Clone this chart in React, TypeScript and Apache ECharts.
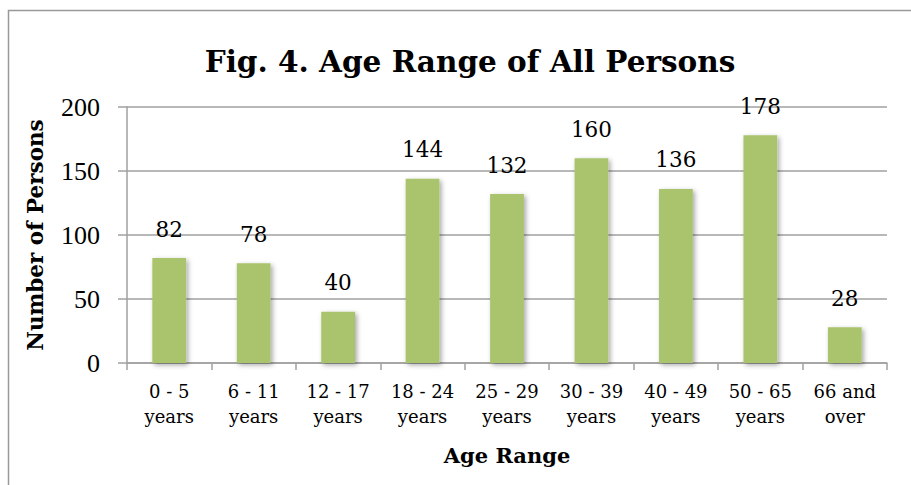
import React, { useEffect, useRef } from "react";
import * as echarts from "echarts";

const categories = [
  "0 - 5\nyears",
  "6 - 11\nyears",
  "12 - 17\nyears",
  "18 - 24\nyears",
  "25 - 29\nyears",
  "30 - 39\nyears",
  "40 - 49\nyears",
  "50 - 65\nyears",
  "66 and\nover",
];
const persons = [82, 78, 40, 144, 132, 160, 136, 178, 28];
const titleText = "Fig. 4. Age Range of All Persons";
const xAxisName = "Age Range";
const yAxisName = "Number of Persons";

export default function App() {
  const ref = useRef<HTMLDivElement>(null);
  useEffect(() => {
    if (!ref.current) return;
    const chart = echarts.init(ref.current, null, { renderer: "svg" });
    const gray = "#a0a0a0";
    chart.setOption({
      animation: false,
      backgroundColor: "#ffffff",
      title: {
        text: titleText,
        left: 465,
        textAlign: "center",
        top: 41,
        textStyle: {
          fontFamily: "DejaVu Serif",
          fontWeight: "bold",
          fontSize: 29.5,
          color: "#000",
        },
      },
      graphic: [
        {
          type: "rect",
          shape: { x: 8.5, y: 10.5, width: 1000, height: 1000 },
          style: { fill: "none", stroke: "#999999", lineWidth: 1.5 },
          silent: true,
        },
      ],
      grid: { left: 127, right: 24, top: 107, bottom: 122 },
      xAxis: {
        type: "category",
        data: categories,
        name: xAxisName,
        nameLocation: "middle",
        nameGap: 82,
        nameTextStyle: {
          fontFamily: "DejaVu Serif",
          fontWeight: "bold",
          fontSize: 21,
          color: "#000",
        },
        axisLine: { show: true, lineStyle: { color: gray, width: 1.5 } },
        axisTick: { show: true, length: 7, lineStyle: { color: gray, width: 1.5 } },
        axisLabel: {
          fontFamily: "DejaVu Serif",
          fontSize: 18,
          lineHeight: 25,
          color: "#000",
          margin: 16,
          interval: 0,
        },
      },
      yAxis: {
        type: "value",
        min: 0,
        max: 200,
        interval: 50,
        name: yAxisName,
        nameLocation: "middle",
        nameGap: 81,
        nameTextStyle: {
          fontFamily: "DejaVu Serif",
          fontWeight: "bold",
          fontSize: 21.5,
          color: "#000",
        },
        axisLine: { show: true, lineStyle: { color: gray, width: 1.5 } },
        axisTick: { show: true, length: 9, inside: false, lineStyle: { color: gray, width: 1.5 } },
        splitLine: { show: true, lineStyle: { color: gray, width: 1.5 } },
        axisLabel: {
          fontFamily: "Liberation Serif",
          fontSize: 26,
          color: "#000",
          margin: 27,
        },
      },
      series: [
        {
          type: "bar",
          data: persons,
          barWidth: "40%",
          itemStyle: {
            color: "#aac46e",
            shadowBlur: 5,
            shadowColor: "rgba(0,0,0,0.35)",
            shadowOffsetX: 2,
            shadowOffsetY: 2,
          },
          label: {
            show: true,
            position: "top",
            distance: 18,
            fontFamily: "DejaVu Serif",
            fontSize: 21.5,
            color: "#000",
          },
        },
      ],
    });
    return () => chart.dispose();
  }, []);
  return (
    <div
      ref={ref}
      style={{ position: "fixed", left: 0, top: 0, width: 911, height: 485 }}
    />
  );
}
